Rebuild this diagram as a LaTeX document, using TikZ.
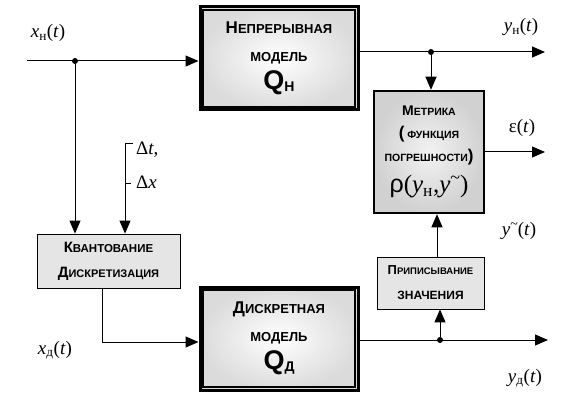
\documentclass[tikz,border=0pt]{standalone}
\usepackage{fontspec}
\setmainfont{Liberation Serif}
\newfontfamily\boxfont{Liberation Sans}
\usetikzlibrary{arrows.meta}
\newcommand{\smc}[4]{{\fontsize{#1}{#1}\selectfont #3}{\fontsize{#2}{#2}\selectfont #4}}
\newcommand{\lbl}[1]{{\fontsize{19}{19}\selectfont #1}}
\newcommand{\tld}[2]{\raisebox{#1}{\fontsize{#2}{#2}\selectfont\textasciitilde}}

\begin{document}
\begin{tikzpicture}[x=1pt,y=-1pt,
  sig/.style={line width=1pt},
  arr/.style={sig,-{Triangle[length=13pt,width=11pt]}},
  dot/.style={circle,fill,inner sep=0pt,minimum size=6pt},
  model/.style={draw,line width=3pt,inner color=white,outer color=black!14,minimum width=158pt,minimum height=103pt,
    align=center,inner sep=0pt,font=\boxfont\bfseries\fontsize{13}{28}\selectfont},
  metric/.style={draw,line width=2.5pt,inner color=black!5,outer color=black!18,minimum width=110pt,minimum height=122pt,
    align=center,inner sep=0pt,font=\boxfont\bfseries\fontsize{10.5}{23}\selectfont},
  proc/.style={draw,line width=0.8pt,fill=black!10,align=center,inner sep=0pt,
    font=\boxfont\bfseries\fontsize{11}{25}\selectfont},
  lab/.style={inner sep=0pt}]
\useasboundingbox (0,0) rectangle (568,401);

\node[model] (T) at (279,58.5) {\smc{17}{13}{Н}{ЕПРЕРЫВНАЯ}\\ \smc{17}{13}{}{МОДЕЛЬ}\\
  {\fontsize{27}{27}\selectfont Q}\raisebox{-2pt}{\fontsize{14}{14}\selectfont Н}};
\node[model] (D) at (279,338.5) {\smc{17}{13}{Д}{ИСКРЕТНАЯ}\\ \smc{17}{13}{}{МОДЕЛЬ}\\
  {\fontsize{27}{27}\selectfont Q}\raisebox{-2pt}{\fontsize{14}{14}\selectfont Д}};
\node[metric] (M) at (429,152) {\smc{14}{10.5}{М}{ЕТРИКА}\\ {\fontsize{17}{17}\selectfont(\,}\smc{14}{10.5}{}{ФУНКЦИЯ}\\
  \smc{14}{10.5}{}{ПОГРЕШНОСТИ}{\fontsize{17}{17}\selectfont)}\\[8pt]
  {\mdseries\fontsize{25}{25}\selectfont ρ\rmfamily(\textit{y}\textsubscript{н},\textit{y}\tld{9pt}{18})}};
\node[proc,minimum width=143pt,minimum height=54pt] (K) at (108.5,261)
  {\smc{15}{11.5}{К}{ВАНТОВАНИЕ}\\ \smc{15}{11}{Д}{ИСКРЕТИЗАЦИЯ}};
\node[proc,minimum width=107pt,minimum height=52pt] (P) at (430.5,283)
  {\smc{13}{9.5}{П}{РИПИСЫВАНИЕ}\\ \smc{13}{12}{}{ЗНАЧЕНИЯ}};

\foreach \m in {T,D}
  \draw[line width=1.2pt] ([shift={(4.5pt,-4.5pt)}]\m.north west) rectangle ([shift={(-4.5pt,4.5pt)}]\m.south east);

\coordinate (xin) at (27,61);
\node[dot] (j1) at (75,61) {};
\draw[arr] (xin) -- (xin -| T.west);
\draw[arr] (j1) -- (j1 |- K.north);
\coordinate (dt) at (125,144);
\coordinate (dx) at (125,184);
\draw[arr] (dt) -- (dt |- K.north);
\draw[sig] (dt) -- ++(8,0);
\draw[sig] (dx) -- ++(6,0);
\draw[arr] ([xshift=-6.5pt]K.south) |- ([yshift=-3.5pt]D.west);

\coordinate (yn) at (545,52);
\node[dot] (j2) at (431,52) {};
\draw[arr] ([yshift=6.5pt]T.east) -- (yn);
\draw[arr] (j2) -- (j2 |- M.north);
\coordinate (eps) at (545,152);
\draw[arr] (M.east) -- (eps);
\draw[arr] ([xshift=6.5pt]P.north) -- ([xshift=6.5pt]P.north |- M.south);
\coordinate (yd) at (548,340);
\node[dot] (j3) at (440,340) {};
\draw[arr] (D.east |- yd) -- (yd);
\draw[arr] (j3) -- (j3 |- P.south);

\node[lab] (lxn) at (48,33) {\lbl{\textit{x}\textsubscript{н}(\textit{t})}};
\node[lab,anchor=west] (ldt) at (136,150) {\lbl{Δ\textit{t},}};
\node[lab,anchor=west] (ldx) at (136,182) {\lbl{Δ\textit{x}}};
\node[lab] (lxd) at (55,350) {\lbl{\textit{x}\textsubscript{д}(\textit{t})}};
\node[lab] (lyn) at (521,27) {\lbl{\textit{y}\textsubscript{н}(\textit{t})}};
\node[lab] (leps) at (522,128) {\lbl{ε(\textit{t})}};
\node[lab] (lyt) at (519,231) {\lbl{\textit{y}\tld{7pt}{14}(\textit{t})}};
\node[lab] (lyd) at (525,378) {\lbl{\textit{y}\textsubscript{д}(\textit{t})}};
\end{tikzpicture}
\end{document}
